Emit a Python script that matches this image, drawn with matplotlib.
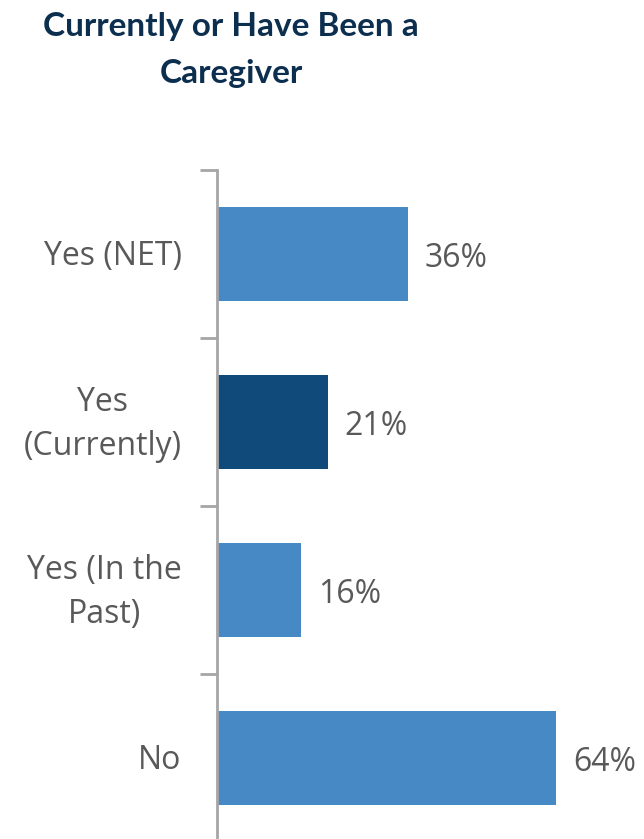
import matplotlib
matplotlib.use("Agg")
import matplotlib.pyplot as plt
from matplotlib.transforms import blended_transform_factory, ScaledTranslation

categories = ["Yes (NET)", "Yes\n(Currently)", "Yes (In the\nPast)", "No"]
values = [36, 21, 16, 64]
value_labels = ["36%", "21%", "16%", "64%"]
bar_colors = ["#4789C5", "#0F4A7B", "#4789C5", "#4789C5"]

W, H = 644, 839
fig = plt.figure(figsize=(W / 100, H / 100), dpi=100)

# axes placed in pixel terms: left spine at x=216, top at y=170, four 168px bands
left, top, band = 216.5, 170.0, 168.0
bottom = top + band * len(categories)
ax = fig.add_axes([left / W, 1 - bottom / H, (W - left) / W, (bottom - top) / H])

ypos = list(range(len(categories)))
ax.barh(ypos, values, height=0.565, color=bar_colors, zorder=2)
ax.set_ylim(len(categories) - 0.5, -0.5)
ax.set_xlim(0, (W - left) / 5.31)

# ticks mark the boundaries between category bands
ax.set_yticks([y + 0.5 for y in [-1] + ypos])
ax.set_yticklabels([])
ax.tick_params(axis="y", length=12, width=2, color="#A6A6A6")

# category names, right-aligned to the left of the axis
name_tr = blended_transform_factory(ax.transAxes, ax.transData) + \
    ScaledTranslation(-35 / 100, -2.5 / 100, fig.dpi_scale_trans)
for y, name in zip(ypos, categories):
    ax.text(0, y, name, transform=name_tr, ha="right", va="center",
            multialignment="center", fontsize=23, color="#595959",
            family="Open Sans", linespacing=1.45)

ax.set_xticks([])
for s in ["top", "right", "bottom"]:
    ax.spines[s].set_visible(False)
ax.spines["left"].set_color("#A6A6A6")
ax.spines["left"].set_linewidth(2)

for y, v, t in zip(ypos, values, value_labels):
    ax.annotate(t, (v, y), xytext=(12, -3.5), textcoords="offset points",
                va="center", ha="left", fontsize=23, color="#595959",
                family="Open Sans")

fig.text(231 / W, 1 - 50 / H, "Currently or Have Been a\nCaregiver", ha="center",
         va="center", fontsize=24, fontweight="bold", color="#0D2F4F",
         family="Lato", linespacing=1.78)

fig.savefig("out.png", dpi=100)
